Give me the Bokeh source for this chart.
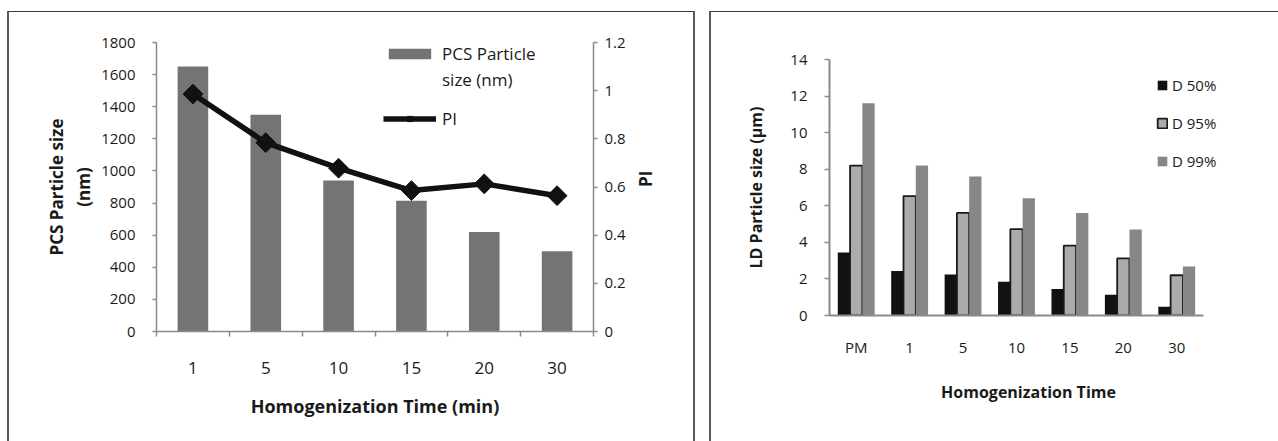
import math
from bokeh.plotting import figure
from bokeh.models import (Range1d, LinearAxis, FixedTicker, Legend, LegendItem,
                          ColumnDataSource)
from bokeh.transform import dodge
from bokeh.embed import file_html
from bokeh.resources import INLINE

# ---------------- data ----------------
times = ["1", "5", "10", "15", "20", "30"]
pcs_size = [1650, 1350, 940, 815, 620, 500]
pi_values = [0.986, 0.784, 0.678, 0.585, 0.613, 0.564]
pcs_ticks = [0, 200, 400, 600, 800, 1000, 1200, 1400, 1600, 1800]
pi_ticks = [0, 0.2, 0.4, 0.6, 0.8, 1, 1.2]
pi_tick_labels = ["0", "0.2", "0.4", "0.6", "0.8", "1", "1.2"]

ld_groups = ["PM", "1", "5", "10", "15", "20", "30"]
d50 = [3.45, 2.44, 2.24, 1.84, 1.45, 1.14, 0.48]
d95 = [8.2, 6.53, 5.61, 4.72, 3.82, 3.12, 2.2]
d99 = [11.61, 8.2, 7.6, 6.41, 5.61, 4.7, 2.68]
ld_ticks = [0, 2, 4, 6, 8, 10, 12, 14]

FONT = "Open Sans"
AXIS_COL = "#8a8a8a"
TXT = "#1a1a1a"


def set_label_vertical_up(ax):
    # make a right-side axis title read bottom-to-top (like the reference)
    if "axis_label_orientation" in ax.properties():
        ax.axis_label_orientation = math.pi / 2


def style_axis(ax, tick_size, title_size, line_width):
    ax.axis_line_color = AXIS_COL
    ax.axis_line_width = line_width
    ax.major_tick_line_color = AXIS_COL
    ax.major_tick_line_width = 1.5
    ax.major_tick_in = 0
    ax.major_tick_out = 4
    ax.minor_tick_line_color = None
    ax.major_label_text_font = FONT
    ax.major_label_text_color = TXT
    ax.major_label_text_font_size = tick_size
    ax.axis_label_text_font = FONT
    ax.axis_label_text_font_style = "bold"
    ax.axis_label_text_color = TXT
    ax.axis_label_text_font_size = title_size


# ---------------- left chart ----------------
x_pos = [i + 0.5 for i in range(len(times))]
src1 = ColumnDataSource(dict(x=x_pos, size=pcs_size, pi=pi_values))

p1 = figure(width=688, height=430, x_range=Range1d(0, len(times)), y_range=Range1d(0, 1800),
            output_backend="svg", toolbar_location=None,
            x_axis_location=None, y_axis_location=None,
            min_border_left=147, min_border_right=104, min_border_top=30, min_border_bottom=111,
            styles={"position": "absolute", "left": "7px", "top": "11px",
                    "border-left": "2px solid #5a5a5a", "border-right": "2px solid #5a5a5a",
                    "border-top": "1.5px solid #3a3a3a"})
p1.outline_line_color = None
p1.grid.visible = False
p1.extra_y_ranges = {"pi": Range1d(0, 1.2)}

bars = p1.vbar(x="x", top="size", width=0.42, source=src1, fill_color="#747474", line_color=None)
pi_line = p1.line(x="x", y="pi", source=src1, y_range_name="pi", line_color="#111111", line_width=5.5)
pi_pts = p1.scatter(x="x", y="pi", source=src1, y_range_name="pi", marker="square", angle=math.pi / 4,
                    size=14, fill_color="#111111", line_color="#111111")

yl = LinearAxis(ticker=FixedTicker(ticks=pcs_ticks), axis_label="PCS Particle size\n(nm)")
yr = LinearAxis(y_range_name="pi", ticker=FixedTicker(ticks=pi_ticks), axis_label="PI",
                major_label_overrides={t: l for t, l in zip(pi_ticks, pi_tick_labels)})
xb = LinearAxis(ticker=FixedTicker(ticks=x_pos, minor_ticks=list(range(len(times) + 1))),
                major_label_overrides={x: t for x, t in zip(x_pos, times)},
                axis_label="Homogenization Time (min)")
for ax in (yl, yr, xb):
    style_axis(ax, "15px", "17px", 1.5)

yl.major_label_standoff = 17
yl.axis_label_standoff = 3
yr.major_label_standoff = 7
yr.axis_label_standoff = 17
set_label_vertical_up(yr)
xb.major_tick_line_color = None
xb.major_tick_out = 0
xb.minor_tick_line_color = AXIS_COL
xb.minor_tick_line_width = 1.5
xb.minor_tick_in = 0
xb.minor_tick_out = 5
xb.major_label_text_font_size = "17px"
xb.major_label_standoff = 25
xb.axis_label_standoff = 17
xb.axis_label_text_font_size = "18px"

p1.add_layout(yl, "left")
p1.add_layout(yr, "right")
p1.add_layout(xb, "below")

leg_common = dict(orientation="vertical", padding=0, margin=0, border_line_color=None,
                  background_fill_alpha=0, label_text_font=FONT, label_text_color=TXT)
leg1a = Legend(items=[LegendItem(label="PCS Particle", renderers=[bars]),
                      LegendItem(label="size (nm)", renderers=[])],
               location=(227, 239), glyph_width=53, glyph_height=13, label_standoff=6,
               spacing=0, label_height=26, label_width=120, label_text_font_size="17px",
               **leg_common)
leg1b = Legend(items=[LegendItem(label="PI", renderers=[pi_line, pi_pts])],
               location=(227, 200), glyph_width=53, glyph_height=13, label_standoff=6,
               spacing=0, label_height=26, label_width=40, label_text_font_size="17px",
               **leg_common)
p1.add_layout(leg1a, "center")
p1.add_layout(leg1b, "center")

# ---------------- right chart ----------------
n_groups = len(ld_groups)
g_pos = [i + 0.5 for i in range(n_groups)]
src2 = ColumnDataSource(dict(x=g_pos, d50=d50, d95=d95, d99=d99))
# the x range leaves room on the right for the legend; the axis line stops at the last group
p2 = figure(width=569, height=430, x_range=Range1d(0, n_groups + 0.45),
            y_range=Range1d(0, 14), output_backend="svg", toolbar_location=None,
            x_axis_location=None, y_axis_location=None,
            min_border_left=118, min_border_right=53, min_border_top=47, min_border_bottom=127,
            styles={"position": "absolute", "left": "709px", "top": "11px",
                    "border-left": "2px solid #5a5a5a", "border-top": "1.5px solid #3a3a3a"})
p2.outline_line_color = None
p2.grid.visible = False

bw = 0.23
r50 = p2.vbar(x=dodge("x", -bw), top="d50", width=bw, source=src2,
              fill_color="#111111", line_color=None)
r95 = p2.vbar(x=dodge("x", 0), top="d95", width=bw, source=src2,
              fill_color="#ababab", line_color="#1a1a1a", line_width=1.8)
r99 = p2.vbar(x=dodge("x", bw), top="d99", width=bw, source=src2,
              fill_color="#878787", line_color=None)

ya = LinearAxis(ticker=FixedTicker(ticks=ld_ticks), axis_label="LD Particle size (µm)")
xa = LinearAxis(ticker=FixedTicker(ticks=g_pos), bounds=(0, n_groups),
                major_label_overrides={x: g for x, g in zip(g_pos, ld_groups)},
                axis_label="Homogenization Time")
for ax in (ya, xa):
    style_axis(ax, "15px", "16px", 2)
ya.major_tick_out = 5
ya.major_label_standoff = 17
ya.axis_label_standoff = 20
xa.major_tick_line_color = None
xa.major_tick_out = 0
xa.major_label_standoff = 21
xa.axis_label_standoff = 21
p2.add_layout(ya, "left")
p2.add_layout(xa, "below")

leg2 = Legend(items=[LegendItem(label="D 50%", renderers=[r50]),
                     LegendItem(label="D 95%", renderers=[r95]),
                     LegendItem(label="D 99%", renderers=[r99])],
              location=(327, 144), glyph_width=12, glyph_height=12, label_standoff=4,
              spacing=18, label_height=20, label_width=60, label_text_font_size="15px",
              **leg_common)
p2.add_layout(leg2, "center")

open("out.html", "w").write(file_html([p1, p2], INLINE))
